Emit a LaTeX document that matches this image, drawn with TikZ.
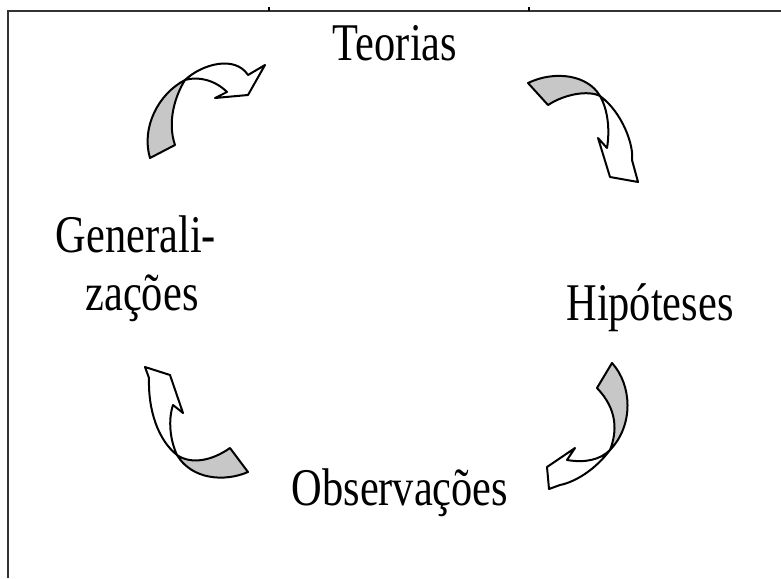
\documentclass[tikz,border=0pt]{standalone}
\usepackage{fontspec}
\setmainfont{Liberation Serif}
\newcommand{\narrow}[1]{\scalebox{0.80}[1]{#1}}
\begin{document}
\begin{tikzpicture}[x=1pt,y=-1pt,
  label/.style={font=\fontsize{53}{58}\selectfont, inner sep=0pt, anchor=base},
  back/.style={draw=black, line width=2pt, fill=black!22, line join=round},
  front/.style={draw=black, line width=2pt, fill=white, line join=round},
  frame/.style={draw=black!80, line width=2pt}]
\useasboundingbox (0,0) rectangle (781,578);

% page frame with tab marks
\draw[frame] (8,578) -- (8,11) -- (781,11);
\draw[black, line width=1.5pt] (269,11) -- (269,7);
\draw[black, line width=1.5pt] (529,11) -- (529,7);

% cycle labels
\node[label] (teo) at (395,60) {\narrow{Teorias}};
\node[label] (hip) at (650,320) {\narrow{Hipóteses}};
\node[label] (obs) at (400,505) {\narrow{Observações}};
\node[label] (gen1) at (136,252) {\narrow{Generali-}};
\node[label] (gen2) at (142,310) {\narrow{zações}};

% arrow: Generalizações -> Teorias
\draw[back] (150,158) .. controls (141,128) and (158,94) .. (185,80)
  .. controls (175,96) and (167,122) .. (175,145) -- cycle;
\draw[front] (185,80) .. controls (202,64) and (235,55) .. (248,75)
  -- (265,65) -- (248,95) -- (215,98) -- (227,92)
  .. controls (215,80) and (198,76) .. (185,80) -- cycle;

% arrow: Teorias -> Hipóteses
\draw[back] (528,83) .. controls (555,70) and (588,75) .. (600,96)
  .. controls (588,90) and (565,94) .. (548,105) -- cycle;
\draw[front] (600,96) .. controls (622,112) and (634,145) .. (632,160)
  -- (638,182) -- (610,177) -- (598,138) -- (607,148)
  .. controls (610,130) and (608,110) .. (600,96) -- cycle;

% arrow: Hipóteses -> Observações
\draw[back] (612,363) .. controls (632,385) and (634,425) .. (610,450)
  .. controls (617,432) and (618,410) .. (597,388) -- cycle;
\draw[front] (610,450) .. controls (595,470) and (575,482) .. (560,485)
  -- (549,489) -- (547,467) -- (575,448) -- (567,460)
  .. controls (585,463) and (600,460) .. (610,450) -- cycle;

% arrow: Observações -> Generalizações
\draw[back] (248,472) .. controls (225,482) and (192,480) .. (177,455)
  .. controls (190,464) and (210,462) .. (230,448) -- cycle;
\draw[front] (177,455) .. controls (158,440) and (148,410) .. (149,378)
  -- (145,367) -- (170,375) -- (183,413) -- (173,405)
  .. controls (168,420) and (170,440) .. (177,455) -- cycle;
\end{tikzpicture}
\end{document}
